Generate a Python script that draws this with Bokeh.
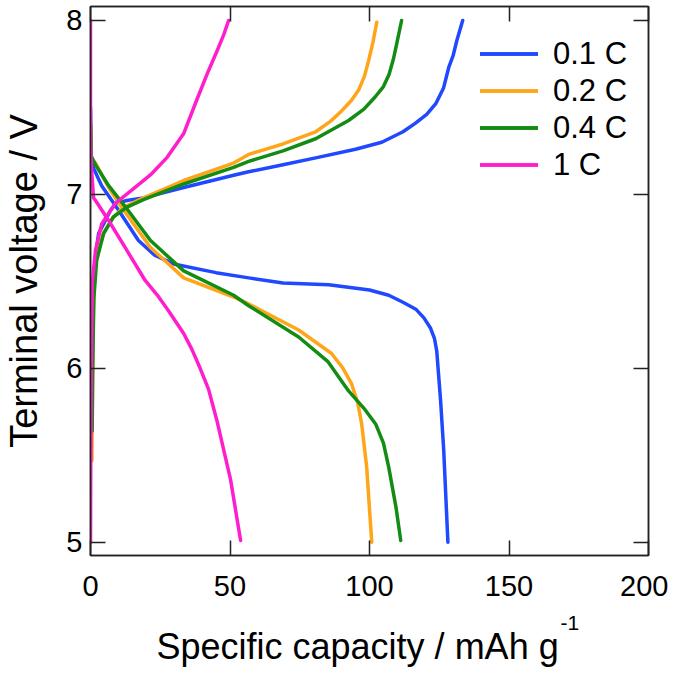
from bokeh.plotting import figure
from bokeh.models import LinearAxis, Range1d, FixedTicker, Legend, LegendItem, Title
from bokeh.embed import file_html
from bokeh.resources import INLINE

# ---- data ----
series_names = ["0.1 C", "0.2 C", "0.4 C", "1 C"]
series_colors = ["#1f48ff", "#ffa51a", "#138c13", "#ff1ecb"]

c01_charge_x = [0.3, 0.6, 1.0, 1.6, 2.9, 4.7, 7.2, 9.3, 13, 19, 33.4, 51.3, 56.7, 69, 80.7, 95, 104.4, 112, 116.5, 120.5, 123.7, 126.5, 128.4, 130, 131.3, 133.4]
c01_charge_y = [5.88, 6.2, 6.45, 6.62, 6.775, 6.83, 6.91, 6.95, 6.965, 6.98, 7.04, 7.11, 7.13, 7.17, 7.21, 7.26, 7.30, 7.36, 7.41, 7.46, 7.52, 7.61, 7.73, 7.8, 7.885, 8.0]
c01_dis_x = [0, 0.3, 1.1, 4, 10, 17.2, 23, 29.8, 45, 56.7, 69, 85.4, 100, 106.9, 112, 116.6, 119.5, 121.9, 123.3, 124.1, 125.5, 126.6, 128.1]
c01_dis_y = [7.5, 7.2, 7.15, 7.05, 6.91, 6.735, 6.65, 6.60, 6.55, 6.52, 6.49, 6.48, 6.45, 6.42, 6.38, 6.34, 6.29, 6.23, 6.17, 6.10, 5.81, 5.53, 5.0]

c02_charge_x = [0.5, 0.7, 1.0, 1.5, 2.5, 4.7, 8.2, 11.8, 19, 33.4, 51.3, 56.7, 69, 80.7, 86, 90, 93.5, 96.1, 98.2, 99.7, 101.3, 102.6]
c02_charge_y = [5.47, 5.9, 6.3, 6.55, 6.66, 6.78, 6.87, 6.925, 6.98, 7.08, 7.18, 7.23, 7.29, 7.36, 7.42, 7.48, 7.54, 7.6, 7.68, 7.77, 7.88, 7.99]
c02_dis_x = [0, 0.3, 1.8, 6.5, 11.2, 21.5, 33.4, 51.3, 56.7, 74.6, 86.4, 90.5, 93.6, 95.8, 97.2, 99, 100.8]
c02_dis_y = [7.42, 7.2, 7.18, 7.04, 6.925, 6.695, 6.52, 6.41, 6.37, 6.22, 6.085, 6.0, 5.91, 5.8, 5.68, 5.43, 5.0]

c04_charge_x = [0.6, 0.8, 1.2, 2.2, 4.7, 8.2, 12.9, 19, 33.4, 51.3, 56.7, 69, 80.7, 92.5, 98, 102, 105, 107, 108.6, 109.8, 111.5]
c04_charge_y = [5.64, 6.0, 6.4, 6.62, 6.775, 6.87, 6.925, 6.97, 7.06, 7.155, 7.19, 7.25, 7.32, 7.425, 7.49, 7.56, 7.62, 7.69, 7.78, 7.87, 8.0]
c04_dis_x = [0, 0.3, 1.8, 6.5, 12.9, 21.5, 33.4, 51.3, 56.7, 74.6, 85, 92.5, 98, 102.2, 105, 106.9, 109.5, 111.2]
c04_dis_y = [7.4, 7.22, 7.17, 7.05, 6.92, 6.735, 6.56, 6.42, 6.36, 6.18, 6.04, 5.87, 5.77, 5.68, 5.57, 5.43, 5.2, 5.01]

c1_charge_x = [0, 0.1, 0.3, 0.6, 1.8, 4, 9, 16, 22, 27.3, 33.4, 38, 42, 45.5, 47.8, 49.5]
c1_charge_y = [5.0, 5.5, 6.0, 6.49, 6.68, 6.83, 6.95, 7.04, 7.12, 7.21, 7.35, 7.54, 7.7, 7.83, 7.92, 8.0]
c1_dis_x = [0, 0, 0.3, 1.1, 1.8, 6.5, 12.4, 19.6, 24, 28, 33.4, 36.3, 39.3, 42.3, 45.3, 50.2, 53.8]
c1_dis_y = [8.0, 7.3, 7.16, 6.98, 6.965, 6.85, 6.695, 6.505, 6.42, 6.33, 6.2, 6.11, 6.0, 5.88, 5.7, 5.36, 5.01]

x_ticks = [0, 50, 100, 150, 200]
y_ticks = [5, 6, 7, 8]
x_label = "Specific capacity / mAh g"
x_label_sup = "-1"
y_label = "Terminal voltage / V"

FONT = "Liberation Sans"

p = figure(frame_width=558, frame_height=549,
           x_range=Range1d(0, 200), y_range=Range1d(4.9235, 8.0805),
           output_backend="svg", toolbar_location=None,
           min_border_left=90, min_border_right=20, min_border_top=6, min_border_bottom=117)
p.background_fill_color = "white"
p.border_fill_color = "white"
p.outline_line_color = "#222222"
p.outline_line_width = 1.5
p.xgrid.visible = False
p.ygrid.visible = False

for ax in p.xaxis:
    ax.ticker = FixedTicker(ticks=x_ticks)
    ax.major_label_standoff = 20
for ax in p.yaxis:
    ax.ticker = FixedTicker(ticks=y_ticks)
    ax.major_label_standoff = 8
    ax.axis_label = y_label
    ax.axis_label_text_font = FONT
    ax.axis_label_text_font_size = "38px"
    ax.axis_label_text_font_style = "normal"
    ax.axis_label_text_color = "black"
    ax.axis_label_standoff = 18

for ax in list(p.xaxis) + list(p.yaxis):
    ax.major_tick_in = 15
    ax.major_tick_out = 0
    ax.minor_tick_line_color = None
    ax.axis_line_color = "#222222"
    ax.axis_line_width = 1.5
    ax.major_tick_line_color = "#222222"
    ax.major_tick_line_width = 1.5
    ax.major_label_text_font = FONT
    ax.major_label_text_font_size = "29px"
    ax.major_label_text_color = "black"

top_ax = LinearAxis(ticker=FixedTicker(ticks=x_ticks),
                    major_label_overrides={t: "" for t in x_ticks})
right_ax = LinearAxis(ticker=FixedTicker(ticks=y_ticks),
                      major_label_overrides={t: "" for t in y_ticks})
for ax in (top_ax, right_ax):
    ax.major_tick_in = 15
    ax.major_tick_out = 0
    ax.minor_tick_line_color = None
    ax.axis_line_color = "#222222"
    ax.axis_line_width = 1.5
    ax.major_tick_line_color = "#222222"
    ax.major_tick_line_width = 1.5
    ax.major_label_standoff = 0
p.add_layout(top_ax, "above")
p.add_layout(right_ax, "right")

curves = [
    (c01_charge_x, c01_charge_y, c01_dis_x, c01_dis_y),
    (c02_charge_x, c02_charge_y, c02_dis_x, c02_dis_y),
    (c04_charge_x, c04_charge_y, c04_dis_x, c04_dis_y),
    (c1_charge_x, c1_charge_y, c1_dis_x, c1_dis_y),
]
items = []
for name, color, (cx, cy, dx, dy) in zip(series_names, series_colors, curves):
    r1 = p.line(cx, cy, line_color=color, line_width=3.5, line_join="round", line_cap="round")
    r2 = p.line(dx, dy, line_color=color, line_width=3.5, line_join="round", line_cap="round")
    items.append(LegendItem(label=name, renderers=[r1, r2]))

legend = Legend(items=items, location=(390, 372), orientation="vertical",
                border_line_color=None, background_fill_alpha=0,
                label_text_font=FONT, label_text_font_size="31px",
                label_text_color="black", glyph_width=58, glyph_height=37,
                label_height=37, spacing=0, padding=0, margin=0, label_standoff=15)
p.add_layout(legend)

# x-axis title with superscript, as two titles below the axis
sup_title = Title(text=x_label_sup, align="left", offset=470, text_font=FONT,
                  text_font_size="21px", text_font_style="normal", text_color="black",
                  standoff=30, text_line_height=1.4)
main_title = Title(text=x_label, align="left", offset=66, text_font=FONT,
                   text_font_size="36px", text_font_style="normal", text_color="black",
                   standoff=-41)
p.add_layout(sup_title, "below")
p.add_layout(main_title, "below")

open("out.html", "w").write(file_html(p, INLINE))
